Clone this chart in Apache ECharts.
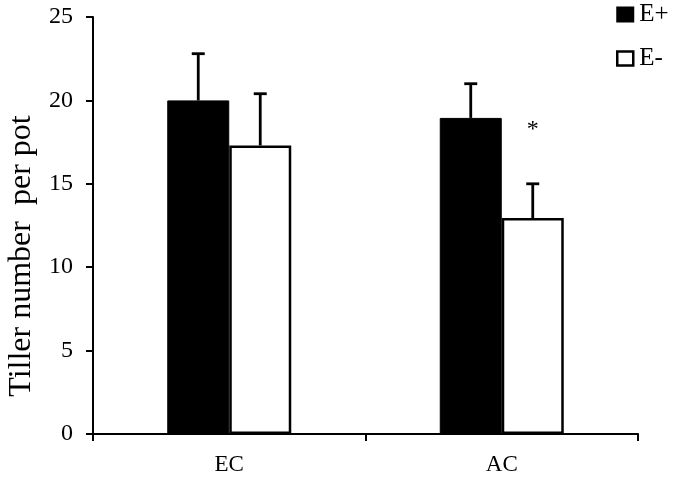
<!DOCTYPE html>
<html>
<head>
<meta charset="utf-8">
<script src="https://cdn.jsdelivr.net/npm/echarts@6/dist/echarts.min.js"></script>
<style>html,body{margin:0;padding:0;background:#fff;}#chart{width:675px;height:477px;}</style>
</head>
<body>
<div id="chart"></div>
<script>
const categories = ['EC', 'AC'];
const seriesNames = ['E+', 'E-'];
const ePlusMean = [20.0, 18.95];
const ePlusErr = [2.8, 2.05];
const eMinusMean = [17.3, 12.95];
const eMinusErr = [3.1, 2.05];
const significance = ['', '*'];   // marks above E- bars
const yTicks = { min: 0, max: 25, interval: 5 };
const yTitle = 'Tiller number  per pot';

const FONT = '"Liberation Serif", "Times New Roman", "DejaVu Serif", serif';
const BAR_W = 62;

const chart = echarts.init(document.getElementById('chart'));

function errData(means, errs, sIdx) {
  return means.map((m, i) => [i, m, errs[i], sIdx, sIdx === 1 ? significance[i] : '']);
}

function renderErr(params, api) {
  const cat = api.value(0), mean = api.value(1), err = api.value(2), sIdx = api.value(3);
  const mark = api.value(4);
  const base = api.coord([cat, mean]);
  const top = api.coord([cat, mean + err]);
  const x = base[0] + (sIdx === 0 ? -BAR_W / 2 : BAR_W / 2);
  const children = [
    { type: 'line', shape: { x1: x, y1: base[1], x2: x, y2: top[1] }, style: { stroke: '#000', lineWidth: 2.8 } },
    { type: 'line', shape: { x1: x - 6.5, y1: top[1], x2: x + 6.5, y2: top[1] }, style: { stroke: '#000', lineWidth: 2.8 } }
  ];
  if (mark) {
    children.push({ type: 'text', style: { text: mark, x: x, y: top[1] - 54, fill: '#000', font: '24px ' + FONT, textAlign: 'center', textVerticalAlign: 'middle' } });
  }
  return { type: 'group', children };
}

chart.setOption({
  animation: false,
  backgroundColor: '#fff',
  grid: { left: 93, right: 37, top: 17, bottom: 43 },
  legend: {
    orient: 'vertical', left: 616, top: 2, padding: 0,
    itemWidth: 16, itemHeight: 14, itemGap: 19,
    textStyle: { fontFamily: FONT, fontSize: 25, color: '#000', lineHeight: 24, padding: [0, 0, 0, 1] },
    data: [
      { name: 'E+', icon: 'rect', itemStyle: { color: '#000' } },
      { name: 'E-', icon: 'rect', itemStyle: { color: '#fff', borderColor: '#000', borderWidth: 2.5 } }
    ]
  },
  graphic: [{
    type: 'text', x: 22, y: 256, rotation: Math.PI / 2,
    style: { text: yTitle, font: '32px ' + FONT, fill: '#000', textAlign: 'center', textVerticalAlign: 'middle' }
  }],
  xAxis: {
    type: 'category', data: categories,
    axisLine: { lineStyle: { color: '#000', width: 2 } },
    axisTick: { show: true, length: 7, lineStyle: { color: '#000', width: 2 } },
    axisLabel: { color: '#000', fontFamily: FONT, fontSize: 23, margin: 19 },
    splitLine: { show: false }
  },
  yAxis: {
    type: 'value', min: yTicks.min, max: yTicks.max, interval: yTicks.interval,
    axisLine: { show: true, lineStyle: { color: '#000', width: 2 } },
    axisTick: { show: true, length: 7, lineStyle: { color: '#000', width: 2 } },
    axisLabel: { color: '#000', fontFamily: FONT, fontSize: 24, margin: 20 },
    splitLine: { show: false }
  },
  series: [
    { name: seriesNames[0], type: 'bar', data: ePlusMean, barWidth: BAR_W, barGap: '0%',
      itemStyle: { color: '#000', borderColor: '#000', borderWidth: 1 } },
    { name: seriesNames[1], type: 'bar', data: eMinusMean, barWidth: BAR_W, barGap: '0%',
      itemStyle: { color: '#fff', borderColor: '#000', borderWidth: 2.5 } },
    { type: 'custom', renderItem: renderErr, data: errData(ePlusMean, ePlusErr, 0), z: 5, silent: true },
    { type: 'custom', renderItem: renderErr, data: errData(eMinusMean, eMinusErr, 1), z: 5, silent: true }
  ]
});
</script>
</body>
</html>
